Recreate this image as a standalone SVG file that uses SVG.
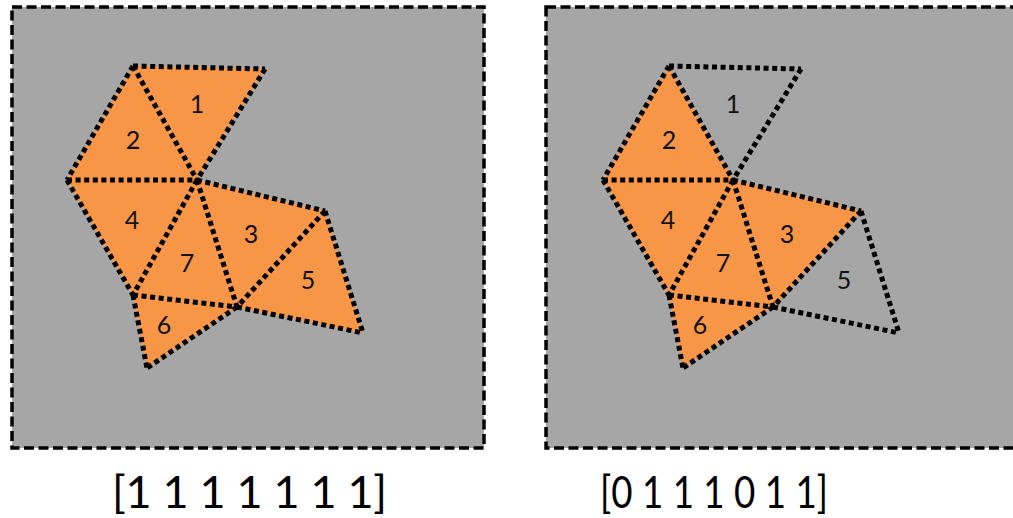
<svg xmlns="http://www.w3.org/2000/svg" width="1013" height="518" viewBox="0 0 1013 518">
<style>
.panel{fill:#a6a6a6;stroke:#000;stroke-width:3.5;stroke-dasharray:10 4.5}
.on{fill:#f79646;stroke:none}
.edges{fill:none;stroke:#000;stroke-width:5;stroke-dasharray:5 3.6}
.num{font-family:Lato,"Open Sans",sans-serif;font-size:25px;fill:#111;text-anchor:middle}
.vec{font-family:Lato,"Open Sans",sans-serif;font-size:45px;fill:#000}
</style>
<g id="panel-left">
<rect class="panel" x="12" y="7" width="472" height="441"/>
</g>
<g id="panel-right">
<rect class="panel" x="546" y="7" width="470" height="441"/>
</g>
<g id="left-mesh">
<g id="L1"><polygon class="on" points="133,66 265,69 197,180"/><text class="num" x="197" y="113">1</text></g>
<g id="L2"><polygon class="on" points="133,66 197,180 67,180"/><text class="num" x="133" y="149">2</text></g>
<g id="L4"><polygon class="on" points="67,180 197,180 133,295"/><text class="num" x="132" y="229">4</text></g>
<g id="L7"><polygon class="on" points="197,180 133,295 237,307"/><text class="num" x="187" y="272">7</text></g>
<g id="L3"><polygon class="on" points="197,180 325,211 237,307"/><text class="num" x="251" y="243">3</text></g>
<g id="L5"><polygon class="on" points="325,211 237,307 363,333"/><text class="num" x="308" y="289">5</text></g>
<g id="L6"><polygon class="on" points="133,295 237,307 147,368"/><text class="num" x="164" y="334">6</text></g>
</g>
<g id="right-mesh" transform="translate(536,0)">
<g id="R1"><text class="num" x="197" y="113">1</text></g>
<g id="R2"><polygon class="on" points="133,66 197,180 67,180"/><text class="num" x="133" y="149">2</text></g>
<g id="R4"><polygon class="on" points="67,180 197,180 133,295"/><text class="num" x="132" y="229">4</text></g>
<g id="R7"><polygon class="on" points="197,180 133,295 237,307"/><text class="num" x="187" y="272">7</text></g>
<g id="R3"><polygon class="on" points="197,180 325,211 237,307"/><text class="num" x="251" y="243">3</text></g>
<g id="R5"><text class="num" x="308" y="289">5</text></g>
<g id="R6"><polygon class="on" points="133,295 237,307 147,368"/><text class="num" x="164" y="334">6</text></g>
</g>
<defs>
<g id="edgeset">
<line x1="133" y1="66" x2="265" y2="69"/>
<line x1="265" y1="69" x2="197" y2="180"/>
<line x1="133" y1="66" x2="197" y2="180"/>
<line x1="133" y1="66" x2="67" y2="180"/>
<line x1="67" y1="180" x2="197" y2="180"/>
<line x1="67" y1="180" x2="133" y2="295"/>
<line x1="197" y1="180" x2="133" y2="295"/>
<line x1="197" y1="180" x2="237" y2="307"/>
<line x1="197" y1="180" x2="325" y2="211"/>
<line x1="325" y1="211" x2="237" y2="307"/>
<line x1="325" y1="211" x2="363" y2="333"/>
<line x1="237" y1="307" x2="363" y2="333"/>
<line x1="133" y1="295" x2="237" y2="307"/>
<line x1="133" y1="295" x2="147" y2="368"/>
<line x1="237" y1="307" x2="147" y2="368"/>
</g>
</defs>
<g id="connectors" class="edges">
<use href="#edgeset"/>
<use href="#edgeset" transform="translate(536,0)"/>
</g>
<g id="labels">
<text class="vec" x="112" y="508" textLength="275" lengthAdjust="spacing">[1 1 1 1 1 1 1]</text>
<text class="vec" x="600" y="508" textLength="228" lengthAdjust="spacingAndGlyphs">[0 1 1 1 0 1 1]</text>
</g>
</svg>
